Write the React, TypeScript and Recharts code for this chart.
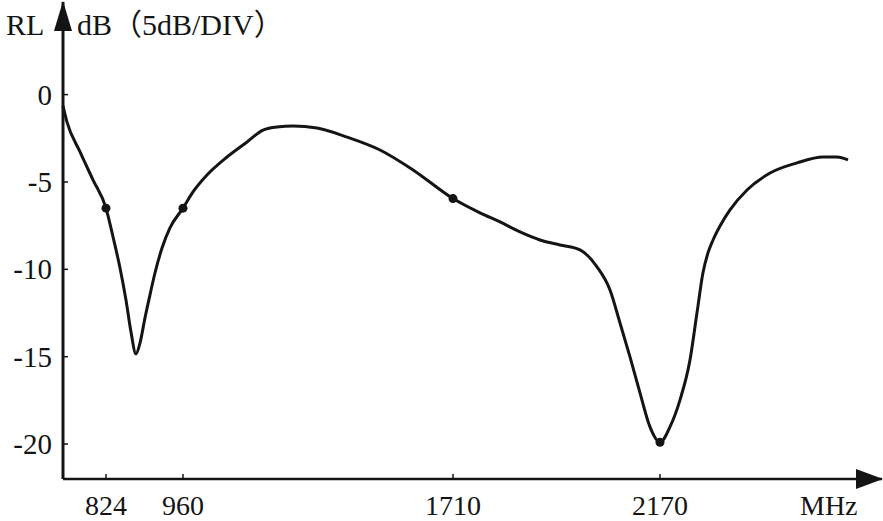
import { LineChart, Line, XAxis, YAxis } from 'recharts'

// horizontal position along the frequency axis (0 = origin, 100 = arrow tip); the axis is not linear in MHz
const positions = [
  0, 0.49, 2.08, 3.66, 5.25, 6.11, 6.96, 7.69, 8.3, 8.91, 9.4, 10.01, 10.62, 11.23, 12.09,
  13.06, 14.65, 15.87, 17.58, 20.02, 22.47, 24.42, 26.13, 28.08, 31.01, 34.68, 38.71, 42.74,
  47.62, 50.92, 53.36, 55.8, 58.24, 60.68, 63.13, 65.2, 66.79, 68.01, 69.23, 70.45, 71.67,
  72.89, 74.11, 75.34, 76.56, 77.41, 78.14, 78.75, 79.37, 80.22, 81.44, 83.52, 86.33, 89.62,
  92.8, 94.51, 95.85,
]
// return loss in dB
const rlValues = [
  -0.65, -1.57, -3.28, -4.88, -6.5, -8.15, -9.92, -11.75, -13.58, -14.84, -14.22, -12.78,
  -11.46, -10.21, -8.78, -7.63, -6.5, -5.57, -4.6, -3.57, -2.71, -2.03, -1.85, -1.8, -1.91,
  -2.43, -3.17, -4.31, -5.95, -6.77, -7.29, -7.86, -8.32, -8.61, -8.89, -9.86, -11.18,
  -13.07, -15.01, -17.07, -19.02, -19.9, -19.02, -17.47, -15.18, -12.49, -10.2, -9.06,
  -8.32, -7.52, -6.6, -5.46, -4.49, -3.91, -3.57, -3.57, -3.74,
]
const freqLabels = ['824', '960', '1710', '2170']
const freqPositions = [5.25, 14.65, 47.62, 72.89]
const rlTicks = [0, -5, -10, -15, -20]

const data = positions.map((x, i) => ({
  x,
  rl: rlValues[i],
  mark: freqPositions.includes(x),
}))

const ink = '#141414'
const font = "'Liberation Serif', 'Noto Sans CJK SC', serif"

const renderDot = (props: any) => {
  const { cx, cy, payload, index } = props
  if (!payload.mark) return <g key={`dot-${index}`} />
  return <circle key={`dot-${index}`} cx={cx} cy={cy} r={4.5} fill={ink} />
}

// tick marks point into the plot, so draw mark + label together
const FreqTick = (props: any) => {
  const { x, y, payload } = props
  return (
    <g>
      <line x1={x} x2={x} y1={y} y2={y - 5} stroke={ink} strokeWidth={1.5} />
      <text x={x} y={y + 36} textAnchor="middle" fill={ink} fontSize={28} fontFamily={font}>
        {freqLabels[freqPositions.indexOf(payload.value)]}
      </text>
    </g>
  )
}

const RlTick = (props: any) => {
  const { x, y, payload } = props
  return (
    <g>
      <line x1={x} x2={x + 5} y1={y} y2={y} stroke={ink} strokeWidth={1.5} />
      <text x={x - 11} y={y + 10} textAnchor="end" fill={ink} fontSize={29} fontFamily={font}>
        {payload.value}
      </text>
    </g>
  )
}

export default function App() {
  return (
    <div style={{ position: 'absolute', left: 0, top: 0, width: 883, height: 521, background: '#fff' }}>
      <svg width={0} height={0} style={{ position: 'absolute' }}>
        <defs>
          <marker id="arrowY" viewBox="0 0 30 18" refX="29" refY="9" markerWidth="30" markerHeight="18"
            markerUnits="userSpaceOnUse" orient="auto-start-reverse">
            <path d="M0,0 L30,9 L0,18 z" fill={ink} />
          </marker>
          <marker id="arrowX" viewBox="0 0 27 20" refX="26" refY="10" markerWidth="27" markerHeight="20"
            markerUnits="userSpaceOnUse" orient="auto-start-reverse">
            <path d="M0,0 L27,10 L0,20 z" fill={ink} />
          </marker>
        </defs>
      </svg>
      <LineChart width={883} height={521} data={data} margin={{ top: 2, right: 1, left: 0, bottom: 0 }}>
        <XAxis
          dataKey="x"
          type="number"
          domain={[0, 100]}
          ticks={freqPositions}
          interval={0}
          axisLine={{ stroke: ink, strokeWidth: 2.5, markerEnd: 'url(#arrowX)' }}
          tickLine={false}
          tickSize={0}
          tickMargin={0}
          height={42}
          tick={<FreqTick />}
        />
        <YAxis
          type="number"
          domain={[-22, 5.3]}
          allowDataOverflow
          ticks={rlTicks}
          interval={0}
          axisLine={{ stroke: ink, strokeWidth: 3, markerStart: 'url(#arrowY)' }}
          tickLine={false}
          tickSize={0}
          tickMargin={0}
          width={63}
          tick={<RlTick />}
        />
        <Line
          dataKey="rl"
          type="monotone"
          stroke={ink}
          strokeWidth={3}
          dot={renderDot}
          activeDot={false}
          isAnimationActive={false}
        />
      </LineChart>
      <svg width={883} height={521} style={{ position: 'absolute', left: 0, top: 0, pointerEvents: 'none' }}>
        <text x={6} y={35} fill={ink} fontSize={30} fontFamily={font}>RL</text>
        <text x={77} y={35} fill={ink} fontSize={30} fontFamily={font}>dB（5dB/DIV）</text>
        <text x={800} y={515} fill={ink} fontSize={28} fontFamily={font}>MHz</text>
      </svg>
    </div>
  )
}
